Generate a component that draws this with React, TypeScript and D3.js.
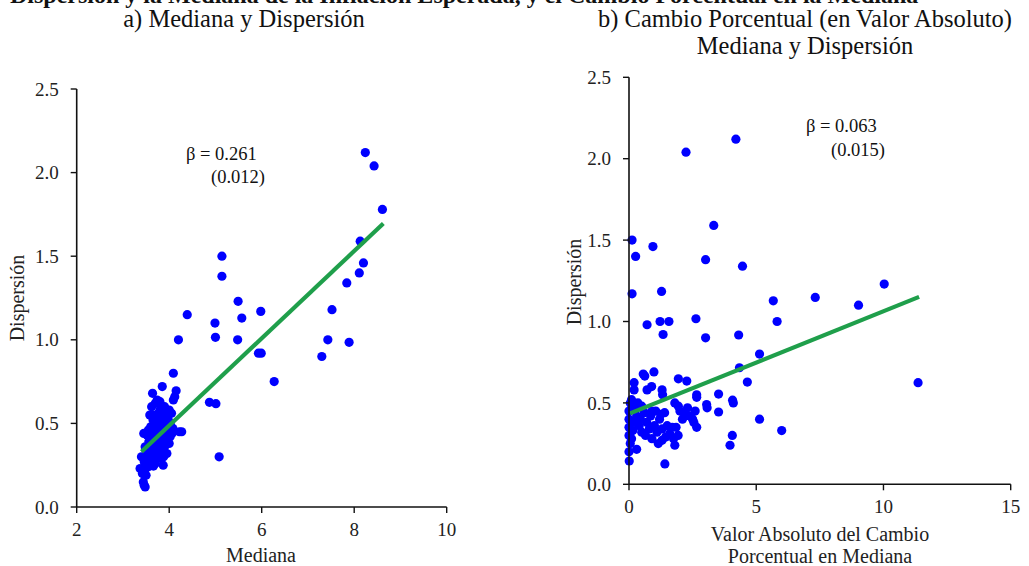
import React from "react";
import * as d3 from "d3";

// ---- data ----
const leftOuter: [number, number][] = [
  [8.24, 2.12], [8.43, 2.04], [8.61, 1.78], [8.13, 1.59], [8.2, 1.46], [8.11, 1.4], [7.84, 1.34],
  [7.52, 1.18], [7.43, 1.0], [7.89, 0.985], [7.3, 0.9], [5.14, 1.5], [5.14, 1.38], [5.49, 1.23],
  [5.57, 1.13], [5.98, 1.17], [4.99, 1.1], [5.0, 1.015], [5.48, 1.0], [4.39, 1.15], [4.2, 1.0],
  [5.93, 0.92], [5.99, 0.92], [6.27, 0.75], [4.87, 0.626], [5.01, 0.618], [5.08, 0.3], [4.09, 0.8],
  [4.27, 0.45], [4.22, 0.45],
];
const leftCluster: [number, number][] = [
  [3.85, 0.72], [3.64, 0.68], [4.15, 0.695], [4.12, 0.66], [4.09, 0.64], [3.74, 0.64], [3.62, 0.6],
  [3.7, 0.62], [3.8, 0.58], [3.9, 0.6], [4.05, 0.56], [4.0, 0.58], [3.58, 0.55], [3.68, 0.55],
  [3.76, 0.54], [3.86, 0.53], [3.95, 0.55], [3.72, 0.5], [3.82, 0.5], [3.92, 0.49], [4.02, 0.5],
  [3.6, 0.48], [3.66, 0.46], [3.78, 0.47], [3.88, 0.45], [3.98, 0.45], [4.06, 0.44], [3.45, 0.44],
  [3.52, 0.43], [3.62, 0.42], [3.72, 0.42], [3.84, 0.41], [3.94, 0.4], [4.02, 0.42], [3.56, 0.39],
  [3.68, 0.38], [3.78, 0.37], [3.9, 0.36], [4.0, 0.38], [3.48, 0.36], [3.6, 0.35], [3.72, 0.34],
  [3.82, 0.33], [3.95, 0.32], [3.4, 0.3], [3.52, 0.31], [3.64, 0.3], [3.76, 0.29], [3.88, 0.3],
  [3.46, 0.27], [3.58, 0.27], [3.7, 0.26], [3.87, 0.25], [3.66, 0.245], [3.37, 0.23], [3.47, 0.22],
  [3.55, 0.24], [3.42, 0.2], [3.5, 0.19], [3.44, 0.15], [3.46, 0.13], [3.48, 0.12], [3.8, 0.63],
  [3.77, 0.56], [3.7, 0.44], [3.8, 0.43], [3.92, 0.43], [3.58, 0.33], [3.68, 0.32], [3.85, 0.38],
  [3.75, 0.4], [3.55, 0.46], [3.98, 0.52], [4.08, 0.47], [3.65, 0.52], [3.88, 0.56], [3.5, 0.34],
  [3.62, 0.28],
];
const rightOuter: [number, number][] = [
  [4.2, 2.12], [2.24, 2.04], [3.33, 1.59], [0.12, 1.5], [0.26, 1.4], [0.94, 1.46], [3.01, 1.38],
  [4.46, 1.34], [0.12, 1.17], [1.28, 1.185], [5.67, 1.127], [7.32, 1.148], [9.02, 1.1], [10.03, 1.23],
  [0.71, 0.98], [1.22, 1.0], [1.57, 1.0], [1.34, 0.92], [2.63, 1.017], [3.01, 0.9], [4.31, 0.917],
  [5.82, 1.0], [5.13, 0.8], [11.36, 0.624], [4.65, 0.628], [4.34, 0.716], [5.13, 0.4], [6.0, 0.33],
  [4.06, 0.3], [3.97, 0.24], [4.07, 0.517], [4.1, 0.5], [3.52, 0.554], [3.52, 0.444], [2.66, 0.55],
  [2.66, 0.534], [3.05, 0.49], [3.07, 0.47], [2.66, 0.35], [1.94, 0.648], [2.27, 0.634], [0.98, 0.69],
  [0.56, 0.677], [0.62, 0.665], [0.71, 0.58], [0.89, 0.6], [0.2, 0.624], [1.3, 0.58], [1.32, 0.55],
  [1.41, 0.125], [0.01, 0.143],
];
const rightCluster: [number, number][] = [
  [0.0, 0.2], [0.05, 0.25], [0.3, 0.215], [1.8, 0.24], [1.93, 0.3], [1.3, 0.27], [1.44, 0.29],
  [1.94, 0.48], [0.0, 0.3], [0.0, 0.35], [0.0, 0.4], [0.0, 0.45], [0.05, 0.5], [0.1, 0.52],
  [0.15, 0.48], [0.25, 0.46], [0.3, 0.42], [0.2, 0.38], [0.15, 0.33], [0.1, 0.28], [0.4, 0.36],
  [0.5, 0.32], [0.45, 0.4], [0.6, 0.44], [0.7, 0.38], [0.65, 0.3], [0.8, 0.34], [0.9, 0.28],
  [0.85, 0.42], [1.0, 0.36], [1.1, 0.32], [1.05, 0.45], [1.2, 0.4], [1.15, 0.25], [1.3, 0.34],
  [1.4, 0.44], [1.5, 0.36], [1.6, 0.31], [1.7, 0.35], [1.75, 0.28], [1.85, 0.35], [2.0, 0.45],
  [2.1, 0.4], [2.2, 0.44], [2.3, 0.47], [2.4, 0.42], [2.5, 0.4], [2.6, 0.45], [2.55, 0.38],
  [2.2, 0.42], [1.8, 0.5], [0.35, 0.5], [0.5, 0.48], [0.2, 0.58], [0.9, 0.45], [1.25, 0.43],
];
const leftXTicks = [2, 4, 6, 8, 10];
const rightXTicks = [0, 5, 10, 15];
const yTicks = [0, 0.5, 1.0, 1.5, 2.0, 2.5];
const leftFit = { beta: 0.261, intercept: -0.557, x0: 3.4, x1: 8.63 };
const rightFit = { beta: 0.063, intercept: 0.433, x0: 0.04, x1: 11.4 };

const FONT = "'Liberation Serif', 'Times New Roman', serif";
const BLUE = "#0000ff";
const GREEN = "#1f9f4b";

type PanelProps = {
  points: [number, number][];
  xDomain: [number, number];
  xRange: [number, number];
  yRange: [number, number];
  xTicks: number[];
  fit: { beta: number; intercept: number; x0: number; x1: number };
  yLabelX: number;
  yLabelY: number;
};

function Panel({ points, xDomain, xRange, yRange, xTicks, fit, yLabelX, yLabelY }: PanelProps) {
  const x = d3.scaleLinear().domain(xDomain).range(xRange);
  const y = d3.scaleLinear().domain([0, 2.5]).range(yRange);
  const line = d3
    .line<number>()
    .x((v) => x(v))
    .y((v) => y(fit.intercept + fit.beta * v));
  return (
    <g>
      {points.map((p, i) => (
        <circle key={i} cx={x(p[0])} cy={y(p[1])} r={4.6} fill={BLUE} />
      ))}
      <path d={line([fit.x0, fit.x1]) || ""} stroke={GREEN} strokeWidth={4.2} fill="none" />
      <line x1={x(xDomain[0])} x2={x(xDomain[0])} y1={y(2.5)} y2={y(0)} stroke="#111" strokeWidth={1.6} />
      <line x1={x(xDomain[0])} x2={x(xDomain[1])} y1={y(0)} y2={y(0)} stroke="#111" strokeWidth={1.6} />
      {yTicks.map((t) => (
        <g key={"y" + t}>
          <line x1={x(xDomain[0]) - 6} x2={x(xDomain[0])} y1={y(t)} y2={y(t)} stroke="#111" strokeWidth={1.4} />
          <text
            x={x(xDomain[0]) - 18}
            y={y(t)}
            dy="0.35em"
            textAnchor="end"
            fontSize={19}
            fontFamily={FONT}
            fill="#222"
          >
            {t.toFixed(1)}
          </text>
        </g>
      ))}
      {xTicks.map((t) => (
        <g key={"x" + t}>
          <line x1={x(t)} x2={x(t)} y1={y(0)} y2={y(0) + 6} stroke="#111" strokeWidth={1.4} />
          <text x={x(t)} y={y(0) + 29} textAnchor="middle" fontSize={19} fontFamily={FONT} fill="#222">
            {t}
          </text>
        </g>
      ))}
      <text
        transform={`translate(${yLabelX},${yLabelY}) rotate(-90)`}
        textAnchor="middle"
        fontSize={20}
        fontFamily={FONT}
        fill="#222"
      >
        Dispersión
      </text>
    </g>
  );
}

export default function App() {
  return (
    <svg
      width={1029}
      height={566}
      style={{ position: "absolute", left: 0, top: 0, background: "#fff" }}
      fontFamily={FONT}
    >
      <rect width={1029} height={566} fill="#fff" />
      <text x={10} y={3} fontSize={24} fontWeight="bold" fontFamily={FONT} fill="#111">
        Dispersión y la Mediana de la Inflación Esperada, y el Cambio Porcentual en la Mediana
      </text>
      <text x={244} y={27} textAnchor="middle" fontSize={24.5} fontFamily={FONT} fill="#111">
        a) Mediana y Dispersión
      </text>
      <text x={805} y={27} textAnchor="middle" fontSize={24.5} fontFamily={FONT} fill="#111">
        b) Cambio Porcentual (en Valor Absoluto)
      </text>
      <text x={805} y={54} textAnchor="middle" fontSize={24.5} fontFamily={FONT} fill="#111">
        Mediana y Dispersión
      </text>

      <Panel
        points={[...leftOuter, ...leftCluster]}
        xDomain={[2, 10]}
        xRange={[76.7, 446.7]}
        yRange={[507, 89]}
        xTicks={leftXTicks}
        fit={leftFit}
        yLabelX={24}
        yLabelY={298}
      />
      <text x={186} y={160} fontSize={18.5} fontFamily={FONT} fill="#111">
        β = 0.261
      </text>
      <text x={211} y={183} fontSize={18.5} fontFamily={FONT} fill="#111">
        (0.012)
      </text>
      <text x={261} y={562} textAnchor="middle" fontSize={20} fontFamily={FONT} fill="#222">
        Mediana
      </text>

      <Panel
        points={[...rightOuter, ...rightCluster]}
        xDomain={[0, 15]}
        xRange={[629, 1010.7]}
        yRange={[484.3, 77.3]}
        xTicks={rightXTicks}
        fit={rightFit}
        yLabelX={581}
        yLabelY={282}
      />
      <text x={806} y={132} fontSize={18.5} fontFamily={FONT} fill="#111">
        β = 0.063
      </text>
      <text x={831} y={156} fontSize={18.5} fontFamily={FONT} fill="#111">
        (0.015)
      </text>
      <text x={820} y={541} textAnchor="middle" fontSize={20} fontFamily={FONT} fill="#222">
        Valor Absoluto del Cambio
      </text>
      <text x={820} y={563} textAnchor="middle" fontSize={20} fontFamily={FONT} fill="#222">
        Porcentual en Mediana
      </text>
    </svg>
  );
}
